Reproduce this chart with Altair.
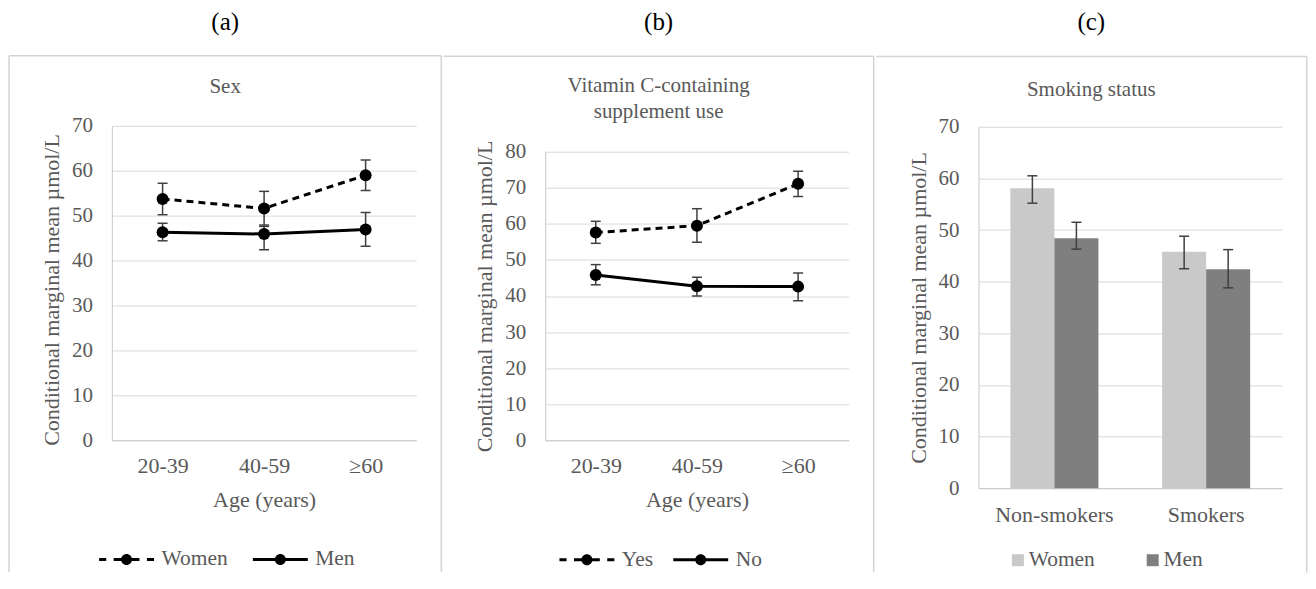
import altair as alt
import pandas as pd

FONT = "Liberation Serif"
GREY = "#595959"
BORDER = "#d4d4d4"
ERR = "#404040"
YTITLE = "Conditional marginal mean µmol/L"

ages = ["20-39", "40-59", "≥60"]
sex_groups = ["Women", "Men"]
supp_groups = ["Yes", "No"]
smoke_groups = ["Non-smokers", "Smokers"]
ticks_70 = [0, 10, 20, 30, 40, 50, 60, 70]
ticks_80 = [0, 10, 20, 30, 40, 50, 60, 70, 80]

# (a) Sex
sex_women_mean = [53.7, 51.6, 59.0]
sex_women_lo = [50.2, 47.6, 55.6]
sex_women_hi = [57.2, 55.4, 62.4]
sex_men_mean = [46.3, 45.9, 46.9]
sex_men_lo = [44.4, 42.4, 43.2]
sex_men_hi = [48.3, 47.9, 50.7]

# (b) Vitamin C-containing supplement use
supp_yes_mean = [57.6, 59.5, 71.1]
supp_yes_lo = [54.6, 54.9, 67.6]
supp_yes_hi = [60.7, 64.2, 74.6]
supp_no_mean = [45.8, 42.7, 42.6]
supp_no_lo = [43.1, 40.0, 38.7]
supp_no_hi = [48.7, 45.2, 46.4]

# (c) Smoking status
smoke_women_mean = [58.1, 45.8]
smoke_women_lo = [55.2, 42.5]
smoke_women_hi = [60.5, 48.8]
smoke_men_mean = [48.4, 42.4]
smoke_men_lo = [46.3, 38.8]
smoke_men_hi = [51.5, 46.2]

bar_colors = ["#c9c9c9", "#7f7f7f"]

# legend glyphs (filled shapes): thin bars for the line, a dot in the middle
DOT = "M-0.2,0A0.2,0.2,0,1,1,0.2,0A0.2,0.2,0,1,1,-0.2,0Z"
DASH_PATH = ("M-1,-0.055H-0.74V0.055H-1Z"
             "M-0.47,-0.055H0.47V0.055H-0.47Z"
             "M0.74,-0.055H1V0.055H0.74Z") + DOT
SOLID_PATH = "M-1,-0.055H1V0.055H-1Z" + DOT

IND = dict(color="independent", shape="independent")


def frame(left, right, top, bottom, draw_left):
    one = alt.Data(values=[{"k": 1}])
    layers = [
        alt.Chart(one).mark_rule(color=BORDER, strokeWidth=1.5).encode(
            x=alt.value(left), x2=alt.value(right), y=alt.value(top)),
        alt.Chart(one).mark_rule(color=BORDER, strokeWidth=1.5).encode(
            x=alt.value(right), y=alt.value(top), y2=alt.value(bottom)),
    ]
    if draw_left:
        layers.append(alt.Chart(one).mark_rule(color=BORDER, strokeWidth=1.5).encode(
            x=alt.value(left), y=alt.value(top), y2=alt.value(bottom)))
    return layers


def title_params(text, offset, **kw):
    return alt.TitleParams(text=text, font=FONT, fontSize=21, color=GREY,
                           fontWeight="normal", anchor="middle", frame="bounds",
                           offset=offset, **kw)


def line_panel(groups, means, los, his, ymax, yvals, w, h, title, t_off,
               lx, ly, cp, frame_layers, title_y=None, lh=None):
    df = pd.DataFrame({
        "age": ages * 2,
        "group": [groups[0]] * 3 + [groups[1]] * 3,
        "mean": means[0] + means[1],
        "lo": los[0] + los[1],
        "hi": his[0] + his[1],
    })
    ax_kw = {"values": yvals}
    if title_y is not None:
        ax_kw["titleY"] = title_y
    yaxis = alt.Axis(**ax_kw)
    yscale = alt.Scale(domain=[0, ymax], nice=False)

    def Y(f):
        return alt.Y(f"{f}:Q", scale=yscale, axis=yaxis, title=YTITLE)

    x = alt.X("age:N", sort=ages, scale=alt.Scale(type="point", padding=0.5),
              axis=alt.Axis(title="Age (years)", labelAngle=0))
    base = alt.Chart(df).encode(x=x)
    line_dashed = base.transform_filter(alt.datum.group == groups[0]).mark_line(
        color="black", strokeWidth=3, strokeDash=[7, 5]).encode(y=Y("mean"))
    line_solid = base.transform_filter(alt.datum.group == groups[1]).mark_line(
        color="black", strokeWidth=3).encode(y=Y("mean"))
    err = base.mark_rule(color=ERR, strokeWidth=1.5).encode(y=Y("lo"), y2=alt.Y2("hi:Q"))
    cap_lo = base.mark_tick(color=ERR, size=10, thickness=1.5, orient="horizontal", opacity=1).encode(y=Y("lo"))
    cap_hi = base.mark_tick(color=ERR, size=10, thickness=1.5, orient="horizontal", opacity=1).encode(y=Y("hi"))
    pts = base.mark_circle(size=144, color="black", opacity=1).encode(y=Y("mean"))
    leg = base.mark_point(filled=True, color="black", opacity=1).encode(
        y=Y("mean"),
        shape=alt.Shape("group:N", scale=alt.Scale(domain=groups, range=[DASH_PATH, SOLID_PATH]),
                        legend=alt.Legend(title=None, orient="none", direction="horizontal",
                                          legendX=lx, legendY=ly, symbolSize=3025,
                                          symbolStrokeWidth=0, symbolFillColor="black",
                                          symbolOpacity=1,
                                          labelFont=FONT, labelFontSize=21.5, labelColor=GREY,
                                          labelOffset=7.5, columnPadding=cp, padding=0))
    ).transform_filter("false")
    tkw = {}
    if lh is not None:
        tkw["lineHeight"] = lh
    return alt.layer(*frame_layers, line_dashed, line_solid, err, cap_lo, cap_hi, pts, leg).properties(
        width=w, height=h, title=title_params(title, t_off, **tkw))


panel_a = line_panel(sex_groups, [sex_women_mean, sex_men_mean], [sex_women_lo, sex_men_lo],
                     [sex_women_hi, sex_men_hi], 70, ticks_70, 305, 315, "Sex", -42.25,
                     -12.75, 406.8, 25, frame(-103, 330, -70, 447, True), title_y=164)

panel_b = line_panel(supp_groups, [supp_yes_mean, supp_no_mean], [supp_yes_lo, supp_no_lo],
                     [supp_yes_hi, supp_no_hi], 80, ticks_80, 304, 289,
                     ["Vitamin C-containing", "supplement use"], -66.75,
                     14.3, 381.1, 20, frame(-101.75, 329, -95.7, 421.3, False), lh=26)

# (c) bars
df_c = pd.DataFrame({
    "status": smoke_groups * 2,
    "group": [sex_groups[0]] * 2 + [sex_groups[1]] * 2,
    "mean": smoke_women_mean + smoke_men_mean,
    "lo": smoke_women_lo + smoke_men_lo,
    "hi": smoke_women_hi + smoke_men_hi,
})
yscale_c = alt.Scale(domain=[0, 70], nice=False)
yaxis_c = alt.Axis(values=ticks_70)


def Yc(f):
    return alt.Y(f"{f}:Q", scale=yscale_c, axis=yaxis_c, title=YTITLE)


base_c = alt.Chart(df_c).encode(
    x=alt.X("status:N", sort=smoke_groups, scale=alt.Scale(paddingInner=0.42, paddingOuter=0.21),
            axis=alt.Axis(title=None, labelAngle=0, labelPadding=16)),
    xOffset=alt.XOffset("group:N", scale=alt.Scale(domain=sex_groups)),
)
bars = base_c.mark_bar(opacity=1).encode(
    y=Yc("mean"),
    color=alt.Color("group:N", scale=alt.Scale(domain=sex_groups, range=bar_colors),
                    legend=alt.Legend(title=None, orient="none", direction="horizontal",
                                      legendX=28.7, legendY=423, symbolType="square",
                                      symbolSize=144, symbolStrokeWidth=0, symbolOpacity=1,
                                      labelFont=FONT, labelFontSize=21.5, labelColor=GREY,
                                      labelOffset=0, columnPadding=47, padding=0)))
err_c = base_c.mark_rule(color=ERR, strokeWidth=1.5).encode(y=Yc("lo"), y2=alt.Y2("hi:Q"))
cap_lo_c = base_c.mark_tick(color=ERR, size=10, thickness=1.5, orient="horizontal", opacity=1).encode(y=Yc("lo"))
cap_hi_c = base_c.mark_tick(color=ERR, size=10, thickness=1.5, orient="horizontal", opacity=1).encode(y=Yc("hi"))
panel_c = alt.layer(*frame(-102.8, 328.7, -70.3, 446.7, False), bars, err_c, cap_lo_c, cap_hi_c).properties(
    width=304, height=362, title=title_params("Smoking status", -43.75))


def spacer():
    return alt.Chart(alt.Data(values=[{"k": 1}])).mark_rule(strokeWidth=0, opacity=0).encode(
        x=alt.value(0), x2=alt.value(1), y=alt.value(0)).properties(width=1, height=1)


def outer(chart, label):
    return alt.vconcat(spacer(), chart, spacing=0,
                       title=alt.TitleParams(text=label, font=FONT, fontSize=25, color="black",
                                             fontWeight="normal", anchor="middle",
                                             frame="bounds", offset=18.75)
                       ).resolve_scale(**IND).resolve_legend(**IND)


chart = alt.hconcat(outer(panel_a, "(a)"), outer(panel_b, "(b)"), outer(panel_c, "(c)"), spacing=0).properties(
    padding={"left": 0, "right": 0, "top": 1.5, "bottom": 0}
).resolve_scale(**IND).resolve_legend(**IND).configure_axis(
    labelFont=FONT, titleFont=FONT, labelColor=GREY, titleColor=GREY, titleFontWeight="normal",
    domainColor="#c8c8c8", domainWidth=1, gridColor="#d9d9d9", gridWidth=1, ticks=False, tickSize=0,
).configure_axisY(
    labelFontSize=21, titleFontSize=22, labelPadding=19.5, titlePadding=8, grid=True,
).configure_axisX(
    labelFontSize=22, titleFontSize=22, labelPadding=15, titlePadding=13, grid=False,
).configure_view(strokeWidth=0).configure_title(font=FONT, fontWeight="normal")

chart.save("out.html", embed_options={"renderer": "svg", "actions": False})
